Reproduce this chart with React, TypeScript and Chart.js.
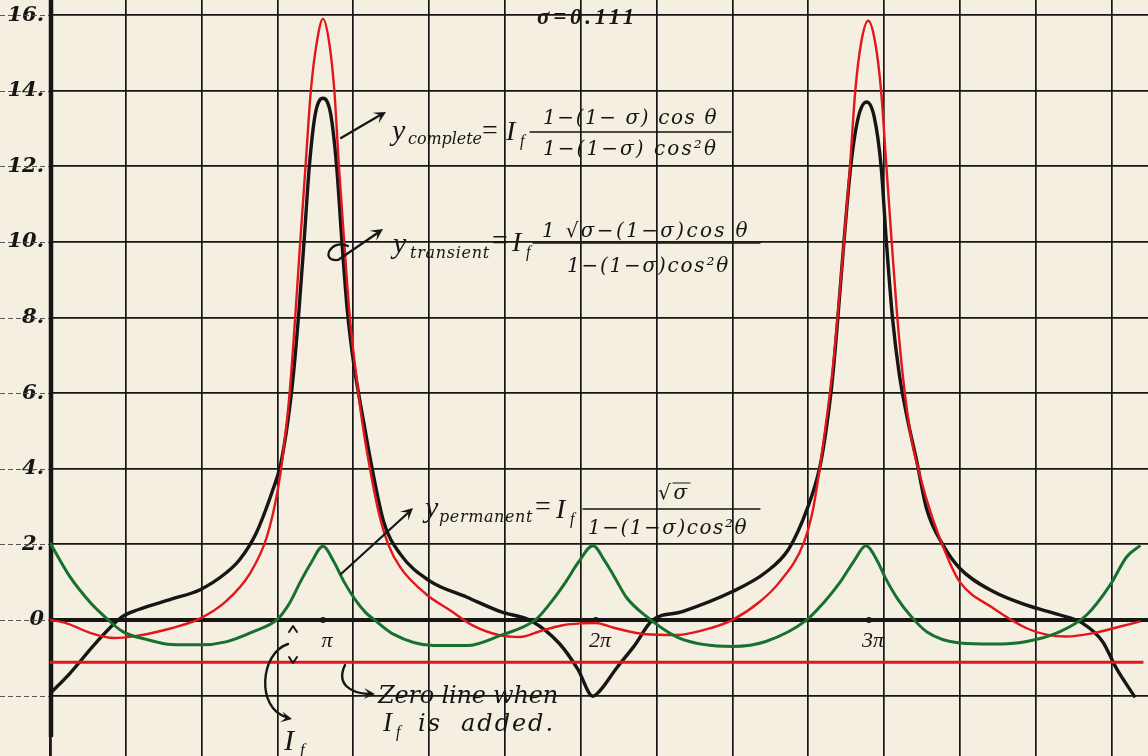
import React, { useEffect, useRef } from 'react';
import { Chart, registerables } from 'chart.js';

Chart.register(...registerables);

// θ in degrees (π = 180°); ordinate in the printed units
const thetaGrid = [0, 50, 100, 150, 200, 250, 300, 350, 400, 450, 500, 550, 600, 650, 700];
const ordinateTicks = [-2, 0, 2, 4, 6, 8, 10, 12, 14, 16];
const piPositions = [180, 360, 540];
const piLabels = ['π', '2π', '3π'];
const sigmaText = 'σ=0.111';
const zeroLineWithIf: [number, number][] = [[0, -1.12], [721, -1.12]];
const thickAxisEnd = -3.1;

const yComplete: [number, number][] = [
  [0, 0], [11, -0.09], [27, -0.35], [42, -0.48], [56, -0.43], [80, -0.22], [98, 0.02],
  [116, 0.49], [132, 1.24], [143, 2.2], [150, 3.4], [154, 4.5], [158, 6], [161.5, 7.9],
  [165, 10], [168.5, 12], [172, 14], [176, 15.3], [180, 15.9], [184, 15.3], [187.5, 14],
  [190.5, 12], [194, 10], [197.5, 8.1], [201.5, 6.6], [206, 5.2], [211, 4.0], [217, 2.8],
  [223, 2.0], [231, 1.39], [248, 0.68], [264, 0.25], [279, -0.15], [297, -0.41],
  [310, -0.45], [323, -0.3], [338, -0.14], [350, -0.09], [360, -0.08], [371, -0.2],
  [393, -0.38], [413, -0.4], [437, -0.2], [450, 0], [468, 0.48], [481, 1.0], [497, 2.04],
  [503, 2.9], [507.5, 4.0], [512, 5.3], [516, 6.6], [519.5, 8.1], [523.5, 10], [527.5, 12],
  [531, 14], [535, 15.3], [539.5, 15.85], [544, 15.3], [548, 14], [551.5, 12], [555, 10],
  [558.5, 8.1], [562.5, 6.4], [567.5, 4.9], [573.6, 3.82], [582, 2.68], [593, 1.54],
  [600, 1.0], [622, 0.31], [644, -0.22], [657, -0.39], [670, -0.44], [688, -0.35],
  [705, -0.18], [719, -0.04],
];

const yTransient: [number, number][] = [
  [0, -1.95], [13, -1.42], [30, -0.62], [47, 0.07], [58, 0.27], [80, 0.55], [99, 0.8],
  [116, 1.24], [125, 1.59], [136, 2.3], [147, 3.45], [152, 4.1], [157, 5.3], [160.5, 6.5],
  [164, 8.1], [167.5, 10], [171, 12], [175, 13.4], [180, 13.8], [185, 13.4], [189, 12],
  [192.5, 10], [196, 8.2], [199.5, 7.0], [203, 6.1], [207, 5.2], [211, 4.3], [220, 2.6],
  [231, 1.74], [250, 1.04], [275, 0.6], [297, 0.22], [318, -0.04], [336, -0.63],
  [348, -1.3], [358, -2.02], [362, -1.9], [374, -1.25], [385, -0.7], [397, -0.02],
  [417, 0.22], [450, 0.75], [472, 1.26], [487, 1.87], [499, 2.91], [507.6, 4.04],
  [512, 5.1], [516, 6.4], [519.5, 8], [523.5, 10], [528, 12], [533, 13.3], [538.5, 13.7],
  [543.5, 13.3], [548, 12], [551.5, 10], [555.5, 8], [560, 6.5], [566, 5.2], [571, 4.3],
  [578, 2.94], [589, 1.97], [600, 1.36], [622, 0.75], [644, 0.39], [666, 0.13],
  [681, -0.09], [694, -0.57], [703, -1.27], [715.5, -2.05],
];

const yPermanent: [number, number][] = [
  [0, 2.04], [13, 1.15], [27, 0.44], [36, 0.09], [48, -0.31], [65, -0.53], [80, -0.65],
  [99, -0.66], [116, -0.58], [134, -0.31], [150, 0.02], [158, 0.45], [165, 1.0],
  [172, 1.5], [180, 1.95], [187, 1.55], [194, 1.0], [201, 0.55], [208, 0.2], [214, 0],
  [226, -0.37], [253, -0.68], [275, -0.68], [297, -0.41], [320, 0], [330, 0.45],
  [340, 1.0], [348, 1.5], [358, 1.96], [366, 1.55], [372, 1.15], [380, 0.6], [393, 0.1],
  [415, -0.48], [450, -0.7], [472, -0.57], [499, 0], [510, 0.45], [521, 1.0], [530, 1.55],
  [538, 1.96], [545, 1.6], [551, 1.1], [559, 0.55], [567, 0.13], [578, -0.31],
  [600, -0.61], [622, -0.64], [644, -0.57], [666, -0.31], [683.5, 0.13], [699, 0.92],
  [710, 1.67], [719, 1.97],
];

const X_MAX = 724;
const Y_MIN = -3.6;
const Y_MAX = 16.4;

const PAPER = '#f4efe0';
const INK = '#161616';
const RED = '#e3161b';
const GREEN = '#17702e';
const TIMES = "'Liberation Serif', serif";
const CENTURY = "'DejaVu Serif', serif";

const pts = (a: [number, number][]) => a.map(([x, y]) => ({ x, y }));

function txt(ctx: any, s: string, x: number, y: number, size: number, width?: number, family = CENTURY, weight = 'normal', style = 'italic') {
  ctx.font = `${style} ${weight} ${size}px ${family}`;
  ctx.textAlign = 'left';
  ctx.textBaseline = 'alphabetic';
  ctx.letterSpacing = '0px';
  if (width) {
    const w = ctx.measureText(s).width;
    const n = Array.from(s).length;
    ctx.letterSpacing = `${(width - w) / Math.max(n, 1)}px`;
  }
  ctx.fillText(s, x, y);
  ctx.letterSpacing = '0px';
}

function head(ctx: any, x: number, y: number, ang: number, size = 12) {
  ctx.save();
  ctx.translate(x, y);
  ctx.rotate(ang);
  ctx.beginPath();
  ctx.moveTo(0, 0);
  ctx.lineTo(-size, -size * 0.5);
  ctx.lineTo(-size * 0.55, 0);
  ctx.lineTo(-size, size * 0.5);
  ctx.closePath();
  ctx.fill();
  ctx.restore();
}

function hline(ctx: any, x1: number, x2: number, y: number, w = 1.3) {
  ctx.lineWidth = w;
  ctx.beginPath();
  ctx.moveTo(x1, y);
  ctx.lineTo(x2, y);
  ctx.stroke();
}

const paperPlugin = {
  id: 'paper',
  beforeDraw(chart: any) {
    const { ctx } = chart;
    ctx.save();
    ctx.fillStyle = PAPER;
    ctx.fillRect(0, 0, chart.width, chart.height);
    ctx.restore();
  },
  beforeDatasetsDraw(chart: any) {
    const { ctx, chartArea } = chart;
    const ys = chart.scales.y;
    ctx.save();
    ctx.strokeStyle = '#555';
    ctx.lineWidth = 1;
    ctx.setLineDash([5, 3]);
    for (const v of ordinateTicks) {
      const py = Math.round(ys.getPixelForValue(v)) + 0.5;
      ctx.beginPath();
      ctx.moveTo(0, py);
      ctx.lineTo(chartArea.left, py);
      ctx.stroke();
    }
    ctx.setLineDash([]);
    // ordinate axis: heavy down to just below −2, then a plain rule
    const ax = chartArea.left + 1;
    const yEnd = ys.getPixelForValue(thickAxisEnd);
    ctx.strokeStyle = INK;
    ctx.lineWidth = 4.5;
    ctx.beginPath();
    ctx.moveTo(ax, chartArea.top);
    ctx.lineTo(ax, yEnd);
    ctx.stroke();
    ctx.lineWidth = 1.7;
    ctx.beginPath();
    ctx.moveTo(ax, yEnd);
    ctx.lineTo(ax, chartArea.bottom);
    ctx.stroke();
    ctx.restore();
  },
  afterDatasetsDraw(chart: any) {
    const { ctx } = chart;
    const xs = chart.scales.x;
    const ys = chart.scales.y;
    ctx.save();
    ctx.fillStyle = INK;
    ctx.strokeStyle = INK;
    ctx.lineCap = 'round';
    ctx.lineJoin = 'round';

    // sigma
    txt(ctx, sigmaText, 537, 24, 23, 101, TIMES, 'bold');

    // π labels
    const py0 = ys.getPixelForValue(0);
    piPositions.forEach((v, i) => {
      ctx.font = `italic 22px ${TIMES}`;
      ctx.textAlign = 'center';
      ctx.textBaseline = 'alphabetic';
      ctx.fillText(piLabels[i], xs.getPixelForValue(v) + 4, py0 + 27);
    });

    // y complete
    txt(ctx, 'y', 392, 140, 30, undefined, TIMES);
    txt(ctx, 'complete', 408, 144, 16, 74);
    txt(ctx, '=', 482, 139, 28, 22, TIMES, 'normal', 'normal');
    txt(ctx, 'I', 506, 140, 28, undefined, TIMES);
    txt(ctx, 'f', 520, 146, 16, undefined, TIMES);
    hline(ctx, 530, 731, 132);
    txt(ctx, '1−(1− σ) cos θ', 543, 124, 20, 175);
    txt(ctx, '1−(1−σ) cos²θ', 543, 155, 20, 175);

    // y transient
    txt(ctx, 'y', 393, 253, 30, undefined, TIMES);
    txt(ctx, 'transient', 410, 258, 16, 80);
    txt(ctx, '=', 492, 249, 28, 20, TIMES, 'normal', 'normal');
    txt(ctx, 'I', 512, 251, 28, undefined, TIMES);
    txt(ctx, 'f', 526, 257, 16, undefined, TIMES);
    hline(ctx, 533, 760, 243);
    txt(ctx, '1 √σ−(1−σ)cos θ', 542, 237, 20, 208);
    txt(ctx, '1−(1−σ)cos²θ', 567, 272, 20, 163);

    // y permanent
    txt(ctx, 'y', 425, 517, 30, undefined, TIMES);
    txt(ctx, 'permanent', 439, 522, 16, 94);
    txt(ctx, '=', 535, 515, 28, 19, TIMES, 'normal', 'normal');
    txt(ctx, 'I', 556, 518, 28, undefined, TIMES);
    txt(ctx, 'f', 570, 524, 16, undefined, TIMES);
    hline(ctx, 583, 760, 509);
    txt(ctx, '√σ', 658, 499, 20, 32);
    hline(ctx, 673, 690, 483, 1.2);
    txt(ctx, '1−(1−σ)cos²θ', 588, 534, 20, 160);

    // arrows to curves
    ctx.lineWidth = 2.2;
    ctx.beginPath();
    ctx.moveTo(341, 138);
    ctx.lineTo(382, 114);
    ctx.stroke();
    head(ctx, 386, 112, Math.atan2(-26, 45));

    ctx.beginPath();
    ctx.moveTo(348, 246);
    ctx.bezierCurveTo(330, 238, 320, 262, 338, 260);
    ctx.lineTo(379, 232);
    ctx.stroke();
    head(ctx, 383, 229, Math.atan2(-28, 42));

    ctx.beginPath();
    ctx.moveTo(341, 574);
    ctx.lineTo(409, 512);
    ctx.stroke();
    head(ctx, 413, 508, Math.atan2(-62, 68));

    // I_f marks
    ctx.lineWidth = 2;
    ctx.beginPath();
    ctx.moveTo(289, 632); ctx.lineTo(293, 626); ctx.lineTo(297, 632);
    ctx.moveTo(289, 657); ctx.lineTo(293, 663); ctx.lineTo(297, 657);
    ctx.stroke();
    ctx.lineWidth = 2.4;
    ctx.beginPath();
    ctx.moveTo(288, 644);
    ctx.bezierCurveTo(260, 653, 256, 708, 286, 717);
    ctx.stroke();
    head(ctx, 292, 719, 0.2, 11);
    txt(ctx, 'I', 284, 750, 30, undefined, TIMES);
    txt(ctx, 'f', 300, 755, 17, undefined, TIMES);

    // zero line when I_f is added
    ctx.beginPath();
    ctx.moveTo(345, 665);
    ctx.bezierCurveTo(336, 684, 350, 693, 369, 694);
    ctx.stroke();
    head(ctx, 375, 694, 0.05, 11);
    txt(ctx, 'Zero line when', 378, 703, 24, 180);
    txt(ctx, 'I', 383, 731, 27, undefined, TIMES);
    txt(ctx, 'f', 396, 737, 16, undefined, TIMES);
    txt(ctx, 'is  added.', 418, 731, 24, 137);

    ctx.restore();
  },
};

export default function App() {
  const ref = useRef<HTMLCanvasElement | null>(null);
  useEffect(() => {
    if (!ref.current) return;
    const chart = new Chart(ref.current, {
      type: 'line',
      data: {
        datasets: [
          { data: pts(zeroLineWithIf), borderColor: RED, borderWidth: 3, pointRadius: 0 },
          { data: pts(yPermanent), borderColor: GREEN, borderWidth: 3, pointRadius: 0, cubicInterpolationMode: 'monotone' },
          { data: pts(yComplete), borderColor: RED, borderWidth: 2.4, pointRadius: 0, cubicInterpolationMode: 'monotone' },
          { data: pts(yTransient), borderColor: INK, borderWidth: 3.4, pointRadius: 0, cubicInterpolationMode: 'monotone' },
          { type: 'scatter', data: piPositions.map((x) => ({ x, y: 0 })), pointRadius: 3, backgroundColor: INK, borderWidth: 0 },
        ] as any,
      },
      options: {
        responsive: false,
        animation: false,
        events: [],
        layout: { padding: 0, autoPadding: false },
        plugins: { legend: { display: false }, tooltip: { enabled: false } },
        scales: {
          x: {
            type: 'linear',
            min: 0,
            max: X_MAX,
            afterBuildTicks: (s: any) => { s.ticks = thetaGrid.map((value) => ({ value })); },
            afterFit: (s: any) => { s.height = 0; s.paddingLeft = 0; s.paddingRight = 0; s.paddingTop = 0; s.paddingBottom = 0; },
            ticks: { display: false },
            grid: { color: INK, lineWidth: 1.7, drawTicks: false },
            border: { display: false },
          },
          y: {
            type: 'linear',
            min: Y_MIN,
            max: Y_MAX,
            afterBuildTicks: (s: any) => { s.ticks = ordinateTicks.map((value) => ({ value })); },
            afterFit: (s: any) => { s.width = 50; s.paddingTop = 0; s.paddingBottom = 0; s.paddingLeft = 0; s.paddingRight = 0; },
            ticks: {
              color: INK,
              padding: 6,
              font: { family: CENTURY, size: 21, style: 'italic', weight: 'bold' },
              callback: (v: any) => (v < 0 ? '' : v === 0 ? '0' : `${v}.`),
            },
            grid: {
              color: INK,
              lineWidth: (c: any) => (c.tick && c.tick.value === 0 ? 4 : 1.7),
              drawTicks: false,
            },
            border: { display: false },
          },
        },
      } as any,
      plugins: [paperPlugin],
    });
    return () => chart.destroy();
  }, []);
  return (
    <div style={{ position: 'absolute', left: 0, top: 0, width: 1148, height: 756 }}>
      <canvas ref={ref} width={1148} height={756} />
    </div>
  );
}
